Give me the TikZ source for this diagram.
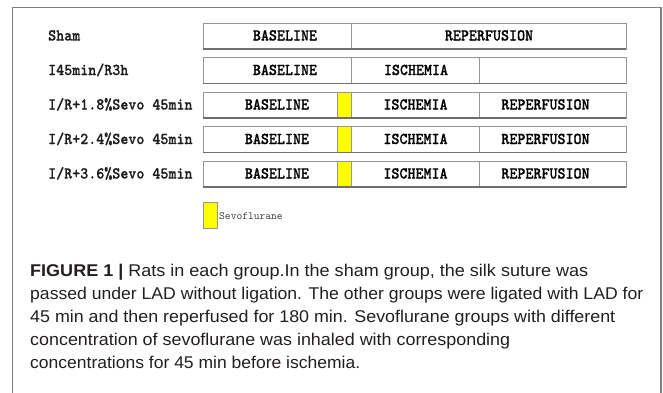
\documentclass[tikz,border=0pt]{standalone}
\usepackage{fontspec}
\usepackage{graphicx}
\setmainfont{Liberation Sans}
\newfontfamily\labfont{lmmonolt10-bold}[Extension=.otf, FakeStretch=0.92, FakeBold=0.7]
\newfontfamily\legfont{lmmono10-regular}[Extension=.otf]
\definecolor{boxgray}{RGB}{150,150,150}
\definecolor{shadegray}{RGB}{110,110,110}
\definecolor{framegray}{RGB}{128,128,128}
\definecolor{sevoyellow}{RGB}{255,255,0}
\definecolor{labtext}{RGB}{30,30,30}
\definecolor{captext}{RGB}{35,31,32}
\begin{document}
\begin{tikzpicture}[x=1pt,y=-1pt,
  bar/.style={draw=boxgray, line width=0.9pt},
  shade/.style={draw=shadegray, line width=1.3pt},
  sevo/.style={draw=boxgray, line width=0.9pt, fill=sevoyellow},
  lab/.style={anchor=base west, inner sep=0pt, text=labtext, font=\labfont\fontsize{16.6}{16}\selectfont},
  intext/.style={anchor=base, inner sep=0pt, text=black, font=\labfont\fontsize{16.6}{16}\selectfont},
  legtext/.style={anchor=base west, inner sep=0pt, text=black!75, font=\legfont\fontsize{11}{11}\selectfont},
  capline/.style={anchor=base west, inner sep=0pt, text=captext, font=\fontsize{17}{17}\selectfont}]
\fill[white] (0,0) rectangle (663,392);
\useasboundingbox (0,0) rectangle (663,392);
% outer frame
\draw[framegray, line width=1.2pt] (12.5,395) -- (12.5,7.5) -- (661,7.5) -- (661,395);

% row 1: Sham
\draw[bar] (203,23) rectangle (626,49);
\draw[bar] (351,23) -- (351,49);
\draw[shade] (203,49) -- (626,49);
\node[lab] (l1) at (48,40.5) {Sham};
\node[intext] (r1b) at (285,40.5) {BASELINE};
\node[intext] (r1r) at (489,40.5) {REPERFUSION};

% row 2: I45min/R3h
\draw[bar] (203,57.5) rectangle (626,83.5);
\draw[bar] (351,57.5) -- (351,83.5);
\draw[bar] (479,57.5) -- (479,83.5);
\draw[shade] (203,83.5) -- (626,83.5);
\node[lab] (l2) at (48,75) {I45min/R3h};
\node[intext] (r2b) at (285,75) {BASELINE};
\node[intext] (r2i) at (416,75) {ISCHEMIA};

% rows 3-5
\foreach \t/\lbl/\nm in {92/{I/R+1.8\%Sevo 45min}/3, 126.5/{I/R+2.4\%Sevo 45min}/4, 161/{I/R+3.6\%Sevo 45min}/5}{
  \draw[bar] (203,\t) rectangle (626,\t+26);
  \draw[bar] (479,\t) -- (479,\t+26);
  \draw[sevo] (337,\t) rectangle (351,\t+26);
  \draw[shade] (203,\t+26) -- (626,\t+26);
  \node[lab] (l\nm) at (48,\t+17.5) {\lbl};
  \node[intext] (r\nm b) at (277,\t+17.5) {BASELINE};
  \node[intext] (r\nm i) at (415.5,\t+17.5) {ISCHEMIA};
  \node[intext] (r\nm r) at (545.5,\t+17.5) {REPERFUSION};
}

% legend
\draw[sevo] (203,202) rectangle (217,228);
\node[legtext] (leg) at (219,219) {Sevoflurane};

% caption
\node[capline] (c1) at (30,276) {\resizebox{558pt}{\height}{\textbf{FIGURE 1 |} Rats in each group.In the sham group, the silk suture was}};
\node[capline] (c2) at (30,299) {\resizebox{613pt}{\height}{passed under LAD without ligation. The other groups were ligated with LAD for}};
\node[capline] (c3) at (30,322) {\resizebox{585pt}{\height}{45 min and then reperfused for 180 min. Sevoflurane groups with different}};
\node[capline] (c4) at (30,345) {\resizebox{480pt}{\height}{concentration of sevoflurane was inhaled with corresponding}};
\node[capline] (c5) at (30,368) {\resizebox{330pt}{\height}{concentrations for 45 min before ischemia.}};
\end{tikzpicture}
\end{document}
